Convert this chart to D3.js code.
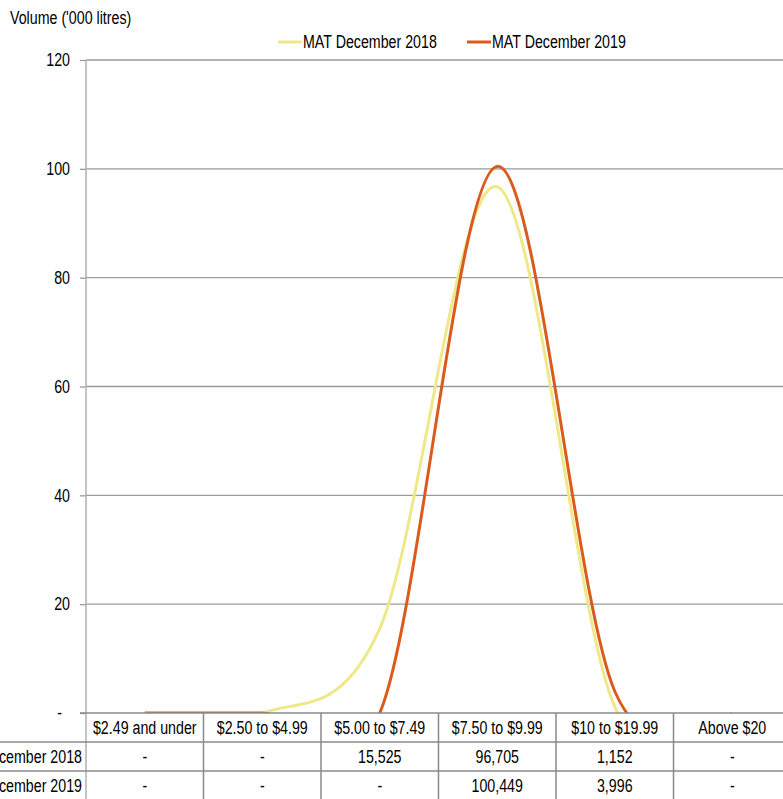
<!DOCTYPE html>
<html>
<head>
<meta charset="utf-8">
<script src="https://cdn.jsdelivr.net/npm/d3@7"></script>
<style>
  body { margin: 0; background: #fff; }
  text { font-family: "Liberation Sans Narrow", "Arial Narrow", "Liberation Sans", sans-serif; fill: #000; }
</style>
</head>
<body>
<svg id="chart" width="783" height="799"></svg>
<script>
const categories = ["$2.49 and under", "$2.50 to $4.99", "$5.00 to $7.49", "$7.50 to $9.99", "$10 to $19.99", "Above $20"];
const seriesNames = ["MAT December 2018", "MAT December 2019"];
const values2018 = [0, 0, 15.525, 96.705, 1.152, 0];
const values2019 = [0, 0, 0, 100.449, 3.996, 0];
const tableLabels2018 = ["-", "-", "15,525", "96,705", "1,152", "-"];
const tableLabels2019 = ["-", "-", "-", "100,449", "3,996", "-"];
const yTicks = [0, 20, 40, 60, 80, 100, 120];
const colors = ["#eee88a", "#d95c1e"];

const svg = d3.select("#chart");
const plotLeft = 86, plotRight = 791, plotTop = 60, plotBottom = 713;
const rowH = 29;
const fontSize = "18px";

const x = d3.scaleBand().domain(categories).range([plotLeft, plotRight]);
const y = d3.scaleLinear().domain([0, 120]).range([plotBottom, plotTop]);

// gridlines
svg.append("g")
    .selectAll("line")
    .data(yTicks.filter(d => d > 0))
    .enter().append("line")
    .attr("x1", plotLeft).attr("x2", plotRight)
    .attr("y1", d => y(d)).attr("y2", d => y(d))
    .style("stroke", "#9a9a9a")
    .style("stroke-width", 1.3);

// y axis
const yAxis = svg.append("g")
    .attr("transform", "translate(" + plotLeft + ",0)")
    .call(d3.axisLeft(y).tickValues(yTicks).tickSize(6).tickPadding(10)
        .tickFormat(d => d === 0 ? "-" : d));
yAxis.select(".domain").remove();
yAxis.selectAll("line").style("stroke", "#9a9a9a").style("stroke-width", 1.3);
yAxis.selectAll("text").style("font-size", fontSize)
    .style("font-family", '"Liberation Sans Narrow", "Arial Narrow", "Liberation Sans", sans-serif');
yAxis.selectAll(".tick").filter(d => d === 0).select("text").attr("dx", -8);

svg.append("line")
    .attr("x1", plotLeft).attr("x2", plotLeft)
    .attr("y1", plotTop).attr("y2", 799)
    .style("stroke", "#b0b0b0").style("stroke-width", 1.5);

svg.append("text")
    .attr("x", 10).attr("y", 24)
    .style("font-size", fontSize)
    .text("Volume ('000 litres)");

// lines, clipped to plot area
svg.append("clipPath").attr("id", "plotClip")
    .append("rect")
    .attr("x", plotLeft).attr("y", 0)
    .attr("width", plotRight - plotLeft).attr("height", plotBottom);

const line = d3.line()
    .x((d, i) => x(categories[i]) + x.bandwidth() / 2)
    .y(d => y(d))
    .curve(d3.curveCardinal.tension(0));

[values2018, values2019].forEach((vals, k) => {
    svg.append("path")
        .datum(vals)
        .attr("d", line)
        .attr("clip-path", "url(#plotClip)")
        .style("fill", "none")
        .style("stroke", colors[k])
        .style("stroke-width", 3);
});

// table
const tbl = svg.append("g");
tbl.append("line")
    .attr("x1", plotLeft - 6).attr("x2", plotRight)
    .attr("y1", plotBottom).attr("y2", plotBottom)
    .style("stroke", "#8a8a8a").style("stroke-width", 1.5);
[1, 2].forEach(r => {
    tbl.append("line")
        .attr("x1", 0).attr("x2", plotRight)
        .attr("y1", plotBottom + r * rowH).attr("y2", plotBottom + r * rowH)
        .style("stroke", "#8a8a8a").style("stroke-width", 1.5);
});
tbl.selectAll(".vline")
    .data(categories.slice(1))
    .enter().append("line")
    .attr("x1", d => x(d)).attr("x2", d => x(d))
    .attr("y1", plotBottom).attr("y2", 799)
    .style("stroke", "#8a8a8a").style("stroke-width", 1.5);

tbl.selectAll(".cat")
    .data(categories)
    .enter().append("text")
    .attr("x", d => x(d) + x.bandwidth() / 2)
    .attr("y", plotBottom + rowH / 2 + 6)
    .attr("text-anchor", "middle")
    .style("font-size", fontSize)
    .text(d => d);

[tableLabels2018, tableLabels2019].forEach((labels, r) => {
    tbl.append("text")
        .attr("x", plotLeft - 4)
        .attr("y", plotBottom + (r + 1) * rowH + rowH / 2 + 6)
        .attr("text-anchor", "end")
        .style("font-size", fontSize)
        .text(seriesNames[r]);
    tbl.selectAll(".row" + r)
        .data(labels)
        .enter().append("text")
        .attr("x", (d, i) => x(categories[i]) + x.bandwidth() / 2)
        .attr("y", plotBottom + (r + 1) * rowH + rowH / 2 + 6)
        .attr("text-anchor", "middle")
        .style("font-size", fontSize)
        .text(d => d);
});

// legend
const legendX = [278, 467];
const legend = svg.selectAll(".legend")
    .data(seriesNames)
    .enter().append("g")
    .attr("transform", (d, i) => "translate(" + legendX[i] + ",42)");
legend.append("line")
    .attr("x1", 0).attr("x2", 24)
    .style("stroke", (d, i) => colors[i])
    .style("stroke-width", 3);
legend.append("text")
    .attr("x", 25).attr("y", 6)
    .style("font-size", fontSize)
    .text(d => d);

// squeeze the text to look like a narrow font
svg.selectAll("text").each(function () {
    const w = this.getComputedTextLength();
    if (w > 0) {
        d3.select(this)
            .attr("textLength", w * 0.79)
            .attr("lengthAdjust", "spacingAndGlyphs");
    }
});
</script>
</body>
</html>
